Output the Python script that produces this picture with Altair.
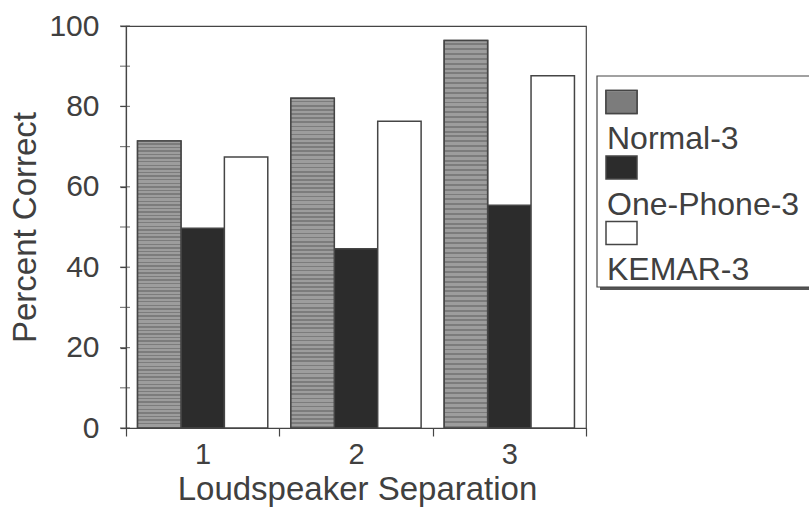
import altair as alt
import pandas as pd

# Percent correct by loudspeaker separation for three listening conditions
separations = ["1", "2", "3"]
series = ["Normal-3", "One-Phone-3", "KEMAR-3"]
normal = [71.4, 82.0, 96.4]
one_phone = [49.7, 44.6, 55.4]
kemar = [67.4, 76.3, 87.6]
y_labels = [0, 20, 40, 60, 80, 100]
y_ticks = [0, 10, 20, 30, 40, 50, 60, 70, 80, 90, 100]
fills = ["#8f8f8f", "#2c2c2c", "#ffffff"]

INK = "#404040"
LINE = "#454545"
FONT = "Liberation Sans"

rows = []
for name, vals in zip(series, [normal, one_phone, kemar]):
    for sep, v in zip(separations, vals):
        rows.append({"sep": sep, "series": name, "pct": v})
df = pd.DataFrame(rows)

# horizontal hatching for the Normal-3 bars
stops = []
n_stripes = 80
for i in range(n_stripes):
    a = i / n_stripes
    b = (i + 0.6) / n_stripes
    c = (i + 1) / n_stripes
    stops += [
        alt.GradientStop(offset=a, color="#9d9d9d"),
        alt.GradientStop(offset=b, color="#9d9d9d"),
        alt.GradientStop(offset=b, color="#7c7c7c"),
        alt.GradientStop(offset=c, color="#7c7c7c"),
    ]
hatch = alt.LinearGradient(gradient="linear", stops=stops, x1=0, x2=0, y1=0, y2=1)

# group bands touch each other so the ticks fall midway between groups;
# the gap around each group comes from the offset scale's outer padding
x_enc = alt.X(
    "sep:N",
    title="Loudspeaker Separation",
    scale=alt.Scale(paddingInner=0, paddingOuter=0),
    axis=alt.Axis(
        labelAngle=0, tickBand="extent", tickSize=8, labelPadding=27,
        labelBaseline="alphabetic", labelFontSize=29,
        titleFontSize=33, titleX=231, titleY=71, titleAlign="center",
        titleBaseline="alphabetic", grid=False,
    ),
)
xoff_enc = alt.XOffset(
    "series:N", scale=alt.Scale(domain=series, paddingInner=0, paddingOuter=0.266)
)
y_enc = alt.Y(
    "pct:Q",
    title="Percent Correct",
    scale=alt.Scale(domain=[0, 100], nice=False),
    axis=alt.Axis(
        values=y_labels, tickSize=6, labelPadding=21, labelFontSize=30,
        titleFontSize=33, titleX=-101, titleY=201, titleAngle=270,
        titleAlign="center", titleBaseline="middle", grid=False,
    ),
)

base = alt.Chart(df).encode(x=x_enc, xOffset=xoff_enc, y=y_enc)

bars = base.mark_bar(stroke=LINE, strokeWidth=1.5).encode(
    fill=alt.Fill("series:N", scale=alt.Scale(domain=series, range=fills), legend=None)
)
hatched = base.transform_filter(alt.datum.series == "Normal-3").mark_bar(
    fill=hatch, stroke=LINE, strokeWidth=1.5
)

# ticks crossing the value axis every 10 points
ticks = alt.Chart(pd.DataFrame({"pct": y_ticks})).mark_tick(
    orient="horizontal", size=10, thickness=1.2, color=LINE
).encode(y=y_enc, x=alt.value(-1))

plot = alt.layer(bars, hatched, ticks)

# boxed legend: swatch above each label
legend_df = pd.DataFrame({"series": series})
shadow = alt.Chart(alt.Data(values=[{}])).mark_rect(fill="#555555").encode(
    x=alt.value(474), x2=alt.value(745), y=alt.value(53), y2=alt.value(264)
)
frame = alt.Chart(alt.Data(values=[{}])).mark_rect(
    fill="white", stroke=LINE, strokeWidth=1.2
).encode(x=alt.value(471), x2=alt.value(742), y=alt.value(50), y2=alt.value(261))

leg_y = alt.Y("series:N", scale=alt.Scale(domain=series, range=[76, 207], padding=0), axis=None)
swatches = alt.Chart(legend_df).mark_point(
    shape="M-1,-0.74H1V0.74H-1Z", size=961, filled=True, opacity=1,
    stroke=LINE, strokeWidth=1.5,
).encode(
    x=alt.value(495.5), y=leg_y,
    fill=alt.Fill("series:N", scale=alt.Scale(domain=series, range=fills), legend=None),
)
swatch_hatch = alt.Chart(legend_df).transform_filter(alt.datum.series == "Normal-3").mark_point(
    shape="M-1,-0.74H1V0.74H-1Z", size=961, filled=True, opacity=1,
    fill=alt.LinearGradient(gradient="linear", stops=stops[: 4 * 8], x1=0, x2=0, y1=0, y2=1),
    stroke=LINE, strokeWidth=1.5,
).encode(x=alt.value(495.5), y=leg_y)
labels = alt.Chart(legend_df).mark_text(
    align="left", baseline="alphabetic", dy=47, fontSize=32, font=FONT, color=INK
).encode(x=alt.value(481), y=leg_y, text="series:N")

legend = alt.layer(swatches, swatch_hatch, labels)

chart = (
    alt.layer(shadow, frame, plot, legend)
    .resolve_scale(y="independent")
    .properties(
        width=460, height=402,
        autosize=alt.AutoSizeParams(type="none"),
        padding={"left": 126, "top": 26, "right": 223, "bottom": 79},
        background="white",
    )
    .configure_view(stroke=LINE, strokeWidth=1.2)
    .configure_axis(
        domainColor=LINE, domainWidth=1.2, tickColor=LINE, tickWidth=1.2,
        labelColor=INK, titleColor=INK, labelFont=FONT, titleFont=FONT,
        titleFontWeight="normal",
    )
)

chart.save("out.html", embed_options={"renderer": "svg", "actions": False})
